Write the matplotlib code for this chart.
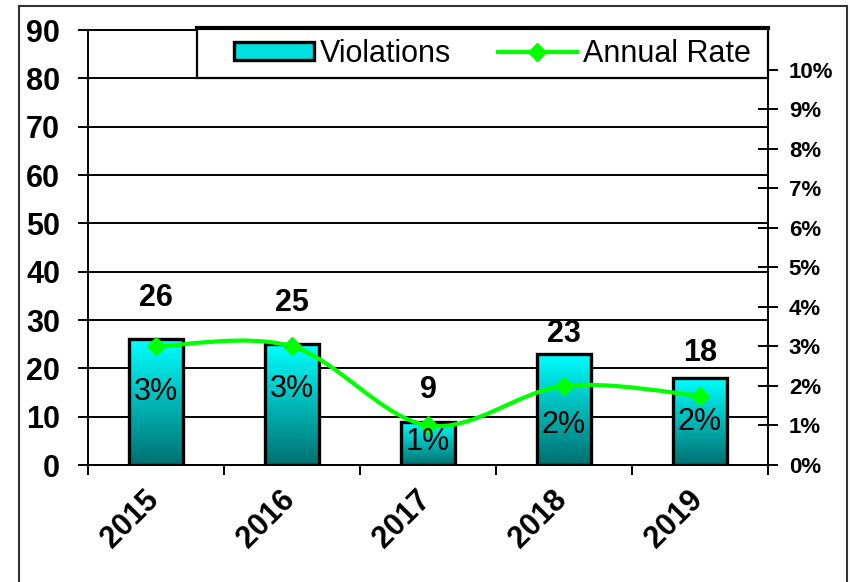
import numpy as np
import matplotlib.pyplot as plt
from matplotlib.path import Path
from matplotlib.patches import PathPatch, Rectangle
from matplotlib.lines import Line2D
import matplotlib.transforms as mtransforms

plt.rcParams['font.family'] = ['Liberation Sans', 'DejaVu Sans']

# datos
years = ['2015', '2016', '2017', '2018', '2019']
violations = [26, 25, 9, 23, 18]
rates = [3.0, 3.0, 1.0, 2.0, 1.75]          # % anual
rate_labels = ['3%', '3%', '1%', '2%', '2%']

# desplazamientos de etiquetas (pixeles)
val_off = [41, 41, 32, 20, 25]
pct_off = [46, 43, 17, 39, 26]

fig = plt.figure(figsize=(8.5, 5.82), dpi=100)
ax = fig.add_axes([0.1035, 0.201, 0.8, 0.7474])
ax2 = ax.twinx()

x = np.arange(len(years))

# barras con degradado
grad = np.linspace(1, 0, 256).reshape(-1, 1)
cmap = plt.matplotlib.colors.LinearSegmentedColormap.from_list('cy', ['#007070', '#00ffff'])
bars = ax.bar(x, violations, width=0.4, facecolor='none', edgecolor='black',
              linewidth=2.4, zorder=3)
for b in bars:
    x0, y0 = b.get_x(), b.get_y()
    im = ax.imshow(grad, cmap=cmap, aspect='auto', zorder=2.9,
                   extent=[x0, x0 + b.get_width(), y0, y0 + b.get_height()])
    im.set_clip_path(b)
ax.set_xlim(-0.5, len(years) - 0.5)
ax.set_ylim(0, 90)

for i, v in enumerate(violations):
    ax.annotate(str(v), (i, v), xytext=(0, val_off[i]), textcoords='offset pixels',
                ha='center', va='center', fontsize=22, fontweight='bold', zorder=5)

ax.set_yticks(range(0, 91, 10))
ax.yaxis.grid(True, color='black', linewidth=1.4)
ax.set_axisbelow(True)
ax.tick_params(axis='y', direction='out', length=7, width=1.4, pad=13,
               labelsize=22)
for lab in ax.get_yticklabels():
    lab.set_fontweight('bold')

ax.set_xticks(x)
ax.set_xticklabels(years, rotation=45, ha='right', va='top', fontsize=22,
                   fontweight='bold')
ax.set_xticks(np.arange(-0.5, len(years)), minor=True)
ax.tick_params(axis='x', which='major', length=0, pad=14)
ax.tick_params(axis='x', which='minor', direction='out', length=7, width=1.4)
shift = mtransforms.ScaledTranslation(9 / 100, 0, fig.dpi_scale_trans)
for lab in ax.get_xticklabels():
    lab.set_transform(lab.get_transform() + shift)

for s in ax.spines.values():
    s.set_linewidth(1.4)
ax.spines['right'].set_visible(False)

# linea suavizada
ax2.set_ylim(0, 11)
ax2.set_yticks(range(0, 11))
ax2.set_yticklabels([f'{k}%' for k in range(0, 11)])
ax2.tick_params(axis='y', direction='inout', length=14, width=1.4, pad=8,
                labelsize=16)
for lab in ax2.get_yticklabels():
    lab.set_fontweight('bold')
for k in ['left', 'top', 'bottom']:
    ax2.spines[k].set_visible(False)
ax2.spines['right'].set_linewidth(1.4)

pts = np.column_stack([x, rates]).astype(float)
ext = np.vstack([pts[0], pts, pts[-1]])
verts = [pts[0]]
codes = [Path.MOVETO]
for i in range(len(pts) - 1):
    p0, p1, p2, p3 = ext[i], ext[i + 1], ext[i + 2], ext[i + 3]
    verts += [p1 + (p2 - p0) / 6, p2 - (p3 - p1) / 6, p2]
    codes += [Path.CURVE4] * 3
ax2.add_patch(PathPatch(Path(verts, codes), facecolor='none', edgecolor='#00ff00',
                        linewidth=3, zorder=4))
ax2.plot(x, rates, linestyle='none', marker='D', markersize=9, color='#00ff00', zorder=5)

for i, r in enumerate(rates):
    ax2.annotate(rate_labels[i], (i, r), xytext=(0, -pct_off[i]), textcoords='offset pixels',
                 ha='center', va='center', fontsize=22, zorder=6)

# leyenda (marco aparte)
ax2.add_patch(Rectangle((0.16, 0.89), 0.84, 0.115, transform=ax2.transAxes,
                        facecolor='white', edgecolor='black', linewidth=1.6,
                        clip_on=False, zorder=9))
ax2.plot([0.16, 1.0], [1.005, 1.005], transform=ax2.transAxes, color='black',
         linewidth=3, clip_on=False, zorder=9.5)
h1 = Rectangle((0, 0), 1, 1, facecolor='#00e0e0', edgecolor='black', linewidth=2.4)
h2 = Line2D([], [], color='#00ff00', linewidth=3, marker='D', markersize=9)
leg = ax2.legend([h1, h2], ['Violations', 'Annual Rate'], ncol=2,
                 bbox_to_anchor=(0.215, 0.885, 0.76, 0.12), loc='center left',
                 mode='expand', fontsize=22, frameon=False, borderaxespad=0,
                 handlelength=2.6, handleheight=0.55, columnspacing=1.0,
                 handletextpad=0.2, borderpad=0)
leg.set_zorder(10)

# marco exterior
fig.patches.append(Rectangle((19 / 850, -0.02), 828 / 850, 1.0097 - 6 / 582 + 0.01,
                             transform=fig.transFigure, fill=False,
                             edgecolor='#333333', linewidth=1.5))

fig.savefig('out.png', dpi=100)
